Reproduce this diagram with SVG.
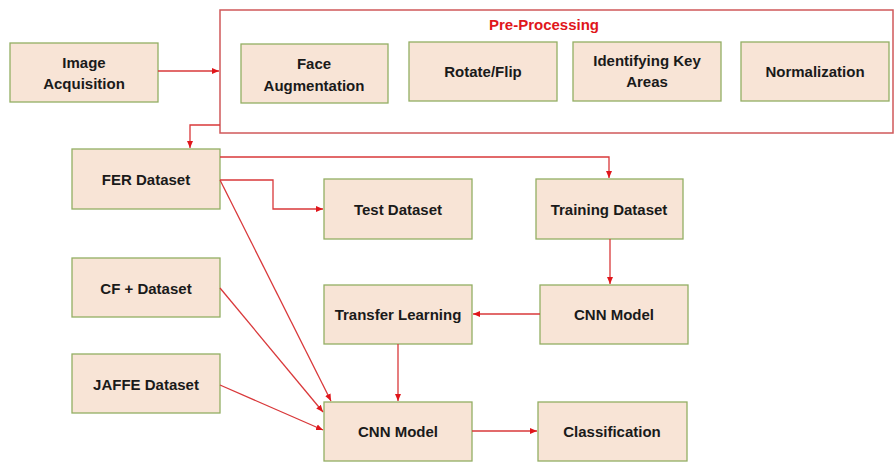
<svg xmlns="http://www.w3.org/2000/svg" width="896" height="463" viewBox="0 0 896 463">
<style>
.n{fill:#F8E4D6;stroke:#93AE63;stroke-width:1.3}
.t{font-family:"Liberation Sans",Arial,sans-serif;font-weight:bold;font-size:15px;fill:#1a1a1a;text-anchor:middle}
.c{fill:none;stroke:#D9383A;stroke-width:1.3}
</style>
<defs>
<marker id="a" markerWidth="8" markerHeight="8" refX="7" refY="4" orient="auto" markerUnits="userSpaceOnUse">
<path d="M0,1 L7,4 L0,7 Z" fill="#E0161B"/>
</marker>
</defs>
<rect width="896" height="463" fill="#fff"/>
<g id="preprocessing">
<rect x="220" y="10" width="673" height="123" fill="none" stroke="#D0585A" stroke-width="1.5"/>
<text x="544" y="30" font-family="Liberation Sans,Arial,sans-serif" font-weight="bold" font-size="15" fill="#E0161B" text-anchor="middle">Pre-Processing</text>
</g>
<g id="image-acquisition"><rect class="n" x="10" y="43" width="148" height="59"/><text class="t" x="84" y="68">Image</text><text class="t" x="84" y="89">Acquisition</text></g>
<g id="face-augmentation"><rect class="n" x="241" y="44" width="147" height="59"/><text class="t" x="314" y="69">Face</text><text class="t" x="314" y="91">Augmentation</text></g>
<g id="rotate-flip"><rect class="n" x="409" y="42" width="148" height="59"/><text class="t" x="483" y="77">Rotate/Flip</text></g>
<g id="key-areas"><rect class="n" x="573" y="42" width="148" height="59"/><text class="t" x="647" y="66">Identifying Key</text><text class="t" x="647" y="87">Areas</text></g>
<g id="normalization"><rect class="n" x="741" y="42" width="148" height="59"/><text class="t" x="815" y="77">Normalization</text></g>
<g id="fer"><rect class="n" x="72" y="149" width="148" height="60"/><text class="t" x="146" y="185">FER Dataset</text></g>
<g id="test"><rect class="n" x="324" y="179" width="148" height="60"/><text class="t" x="398" y="215">Test Dataset</text></g>
<g id="training"><rect class="n" x="536" y="179" width="147" height="60"/><text class="t" x="609" y="215">Training Dataset</text></g>
<g id="cf"><rect class="n" x="72" y="258" width="148" height="59"/><text class="t" x="146" y="294">CF + Dataset</text></g>
<g id="transfer"><rect class="n" x="324" y="285" width="148" height="59"/><text class="t" x="398" y="320">Transfer Learning</text></g>
<g id="cnn1"><rect class="n" x="540" y="285" width="148" height="59"/><text class="t" x="614" y="320">CNN Model</text></g>
<g id="jaffe"><rect class="n" x="72" y="354" width="148" height="59"/><text class="t" x="146" y="390">JAFFE Dataset</text></g>
<g id="cnn2"><rect class="n" x="324" y="402" width="148" height="59"/><text class="t" x="398" y="437">CNN Model</text></g>
<g id="classification"><rect class="n" x="538" y="402" width="149" height="59"/><text class="t" x="612" y="437">Classification</text></g>
<g id="connectors">
<path class="c" d="M158,71 H219" marker-end="url(#a)"/>
<path class="c" d="M220,125 H190 V148" marker-end="url(#a)"/>
<path class="c" d="M220,157 H609 V178" marker-end="url(#a)"/>
<path class="c" d="M220,180 H273 V209 H323" marker-end="url(#a)"/>
<path class="c" d="M610,239 V284" marker-end="url(#a)"/>
<path class="c" d="M540,314 H473" marker-end="url(#a)"/>
<path class="c" d="M398,344 V401" marker-end="url(#a)"/>
<path class="c" d="M220,180 L331,401" marker-end="url(#a)"/>
<path class="c" d="M220,288 L323,412" marker-end="url(#a)"/>
<path class="c" d="M220,385 L323,430" marker-end="url(#a)"/>
<path class="c" d="M472,431 H537" marker-end="url(#a)"/>
</g>
</svg>
